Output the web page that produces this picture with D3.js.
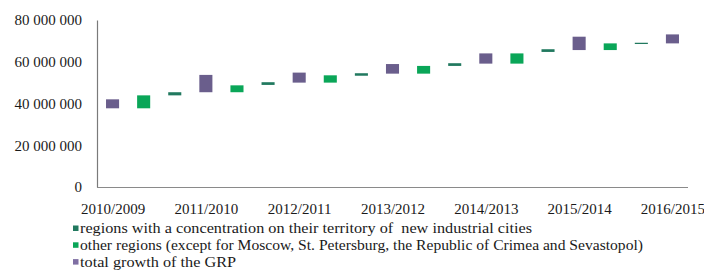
<!DOCTYPE html>
<html>
<head>
<meta charset="utf-8">
<script src="https://cdn.jsdelivr.net/npm/d3@7"></script>
<style>
  html, body { margin: 0; padding: 0; background: #fff; }
  svg { display: block; }
  text { font-family: "Liberation Serif", "Times New Roman", serif; fill: #1a1a1a; }
</style>
</head>
<body>
<svg id="chart" width="704" height="271"></svg>
<script>
// ---- data (values in roubles, floating bars: low -> high) ----
const years = ["2010/2009", "2011/2010", "2012/2011", "2013/2012", "2014/2013", "2015/2014", "2016/2015"];

// total growth of the GRP (one per year)
const totalLow  = [37700000, 45400000, 50000000, 54300000, 59100000, 65600000, 68800000];
const totalHigh = [42000000, 53700000, 54800000, 58900000, 64000000, 72000000, 73100000];

// other regions (years 2011/2010 .. 2016/2015)
const otherLow  = [37700000, 45400000, 50000000, 54300000, 59100000, 65600000];
const otherHigh = [43900000, 48700000, 53500000, 58000000, 64000000, 68800000];

// regions with new industrial cities (years 2011/2010 .. 2016/2015)
const induLow   = [43900000, 48900000, 53300000, 58000000, 64700000, 68500000];
const induHigh  = [45400000, 50200000, 54500000, 59300000, 66000000, 69100000];

const yTicks = [0, 20000000, 40000000, 60000000, 80000000];

const legendLabels = [
  "regions with a concentration on their territory of  new industrial cities",
  "other regions (except for Moscow, St. Petersburg, the Republic of Crimea and Sevastopol)",
  "total growth of the GRP"
];
const colors = { indu: "#21795f", other: "#0aa658", total: "#6a5e8c" };
const legendColors = [colors.indu, colors.other, "#7f6fa3"];

// ---- build slot list: total(2010/2009), then [other, indu, total] per later year ----
const bars = [];
bars.push({ type: "total", low: totalLow[0], high: totalHigh[0], label: years[0] });
for (let i = 0; i < otherLow.length; i++) {
  bars.push({ type: "other", low: otherLow[i], high: otherHigh[i], label: null });
  bars.push({ type: "indu", low: induLow[i], high: induHigh[i], label: null });
  bars.push({ type: "total", low: totalLow[i + 1], high: totalHigh[i + 1], label: years[i + 1] });
}
bars.forEach((d, i) => d.slot = i);

// ---- layout ----
const svg = d3.select("#chart");
const mLeft = 97, mRight = 688, mTop = 20, mBottom = 187;

const x = d3.scalePoint().domain(bars.map(d => d.slot)).range([mLeft, mRight]).padding(0.5);
const y = d3.scaleLinear().domain([0, 80000000]).range([mBottom, mTop]);
const barW = x.step() * 0.42;

// bars
svg.append("g").selectAll("rect").data(bars).join("rect")
  .attr("x", d => x(d.slot) - barW / 2)
  .attr("y", d => y(d.high))
  .attr("width", barW)
  .attr("height", d => Math.max(1, y(d.low) - y(d.high)))
  .attr("fill", d => colors[d.type]);

// y axis
const fmt = v => d3.format(",")(v).replace(/,/g, " ");
const yAxis = svg.append("g").attr("transform", `translate(${mLeft},0)`)
  .call(d3.axisLeft(y).tickValues(yTicks).tickFormat(fmt).tickSize(0).tickPadding(15));
yAxis.select(".domain").attr("stroke", "#7a7a7a").attr("stroke-width", 1.2);
yAxis.selectAll("text").attr("font-size", 15).style("font-family", "'Liberation Serif', serif").attr("fill", "#1a1a1a");

// x axis
const labelled = bars.filter(d => d.label).map(d => d.slot);
const xAxis = svg.append("g").attr("transform", `translate(0,${mBottom})`)
  .call(d3.axisBottom(x).tickValues(labelled).tickFormat(s => bars[s].label).tickSize(0).tickPadding(16));
xAxis.select(".domain").attr("stroke", "#8a8a8a").attr("stroke-width", 1.2)
  .attr("d", `M${mLeft},0.5H${mRight}`);
xAxis.selectAll("text").attr("font-size", 15).style("font-family", "'Liberation Serif', serif").attr("fill", "#1a1a1a");

// legend
const legendEnds = [532, 643, 236];
const leg = svg.append("g");
legendLabels.forEach((t, i) => {
  const cy = 228.5 + i * 16.8;
  leg.append("rect").attr("x", 73).attr("y", cy - 3).attr("width", 5.5).attr("height", 5.5).attr("fill", legendColors[i]);
  leg.append("text").attr("x", 80).attr("y", cy + 4.5).attr("font-size", 14.5)
    .attr("textLength", legendEnds[i] - 80).attr("lengthAdjust", "spacingAndGlyphs")
    .style("white-space", "pre").text(t);
});
</script>
</body>
</html>
